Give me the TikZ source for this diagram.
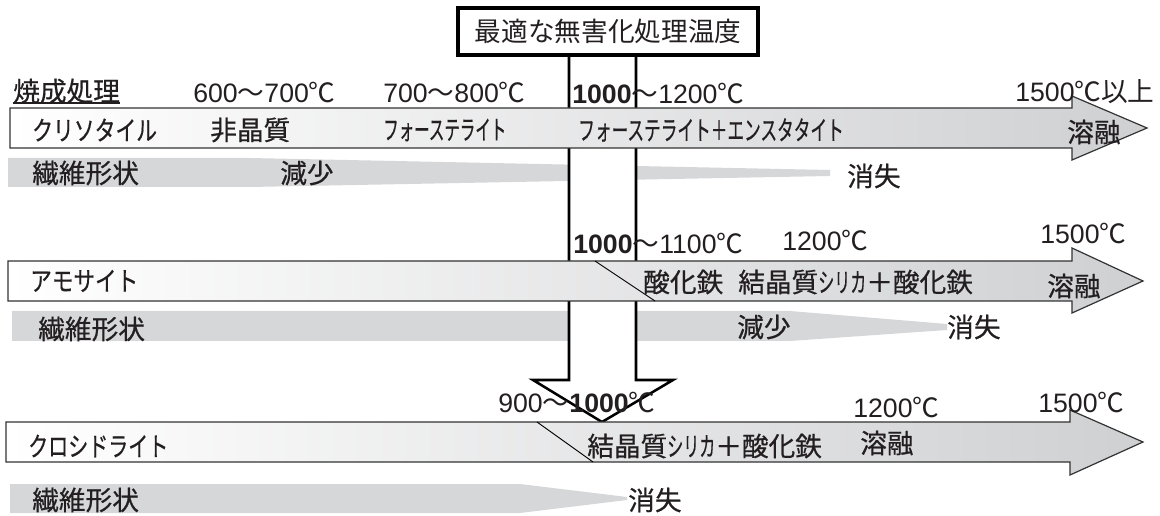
\documentclass[tikz,border=0pt]{standalone}
\usepackage{fontspec}
\usepackage{graphicx}
\setmainfont{Liberation Sans}
\newfontfamily\jp{Noto Sans CJK JP}[FakeBold=0.6]
\newfontfamily\jpr{Noto Sans CJK JP}
\definecolor{ink}{HTML}{231F20}
\definecolor{gA}{HTML}{CFD0D2}
\definecolor{gB}{HTML}{E1E2E3}
\definecolor{band}{HTML}{D6D7D9}
\definecolor{edge}{HTML}{333333}
\newcommand\fsz{\fontsize{20}{22}\selectfont}
\newcommand\cz[2]{\scalebox{#1}[1]{#2}}
\newcommand\dg{{\jpr ℃}}
\newcommand\tl{{\jpr ～}}
\tikzset{
  lbl/.style={inner sep=0pt, font=\fsz, text=ink, anchor=base west},
  jlbl/.style={inner sep=0pt, font=\fsz\jp, text=ink, anchor=west},
  rowarrow/.style={draw=edge, line width=0.9pt, left color=white, middle color=gB, right color=gA},
  fiber/.style={fill=band, draw=none},
  bigarrow/.style={draw=black, line width=1.9pt, fill=white, line join=miter},
  titlebox/.style={draw=black, line width=2.3pt, fill=white, inner sep=0pt, minimum width=300*0.75pt, minimum height=47*0.75pt, font=\fsz\jpr, text=ink},
  diag/.style={draw=black, line width=0.7pt}
}
\begin{document}
\begin{tikzpicture}[x=0.75pt,y=-0.75pt]
\useasboundingbox (0,0) rectangle (1160,516);
% fiber bands
\fill[fiber] (8,158) -- (250,158) -- (830,170) -- (830,176) -- (250,187) -- (8,187) -- cycle;
\fill[fiber] (12,311) -- (790,311) -- (947,324) -- (947,330) -- (790,341) -- (12,341) -- cycle;
\fill[fiber] (10,484) -- (520,484) -- (627,497) -- (627,500) -- (520,513) -- (10,513) -- cycle;
% big vertical arrow
\coordinate (sL) at (569,55);
\coordinate (sR) at (636,55);
\path[bigarrow] (sL) -- (569,380) -- (533,380) -- (602,422) -- (673,380) -- (636,380) -- (sR);
\node[titlebox] (title) at (608,31.5) {最適な無害化処理温度};
% row arrows
\path[rowarrow] (10,108) -- (1072,108) -- (1072,96) -- (1147,128) -- (1072,160) -- (1072,148) -- (10,148) -- cycle;
\path[rowarrow] (8,261) -- (1072,261) -- (1072,248) -- (1143,281) -- (1072,313) -- (1072,301) -- (8,301) -- cycle;
\path[rowarrow] (6,422) -- (1070,422) -- (1070,410) -- (1143,442) -- (1070,475) -- (1070,462) -- (6,462) -- cycle;
\coordinate (d2a) at (595,261); \coordinate (d2b) at (655,301);
\coordinate (d3a) at (537,422); \coordinate (d3b) at (593,462);
\draw[diag] (d2a) -- (d2b);
\draw[diag] (d3a) -- (d3b);
% row 1 texts
\node[jlbl] (t1) at (13,91) {焼成処理};
\draw[ink, line width=1pt] ([yshift=0.5pt]t1.south west) -- ([yshift=0.5pt]t1.south east);
\node[lbl] (a1) at (193,103) {600\tl700\dg};
\node[lbl] (a2) at (383,103) {700\tl800\dg};
\node[lbl] (a3) at (572,104) {\textbf{1000}\tl1200\dg};
\node[lbl] (a4) at (1015,102) {1500\dg{\jpr 以上}};
\node[jlbl] (r1a) at (32,130) {\cz{0.78}{クリソタイル}};
\node[jlbl] (r1b) at (210,130) {非晶質};
\node[jlbl] (r1c) at (383,130) {\cz{0.58}{フォーステライト}};
\node[jlbl] (r1d) at (578,130) {\cz{0.625}{フォーステライト＋エンスタタイト}};
\node[jlbl] (r1e) at (1067,132) {溶融};
\node[jlbl] (f1a) at (32,173) {繊維形状};
\node[jlbl] (f1b) at (280,173) {減少};
\node[jlbl] (f1c) at (847,176) {消失};
% row 2 texts
\node[lbl] (b1) at (573,254) {\textbf{1000}\tl1100\dg};
\node[lbl] (b2) at (782,251) {1200\dg};
\node[lbl] (b3) at (1040,244) {1500\dg};
\node[jlbl] (r2a) at (30,281) {\cz{0.81}{アモサイト}};
\node[jlbl] (r2b) at (643,282) {酸化鉄};
\node[jlbl] (r2c) at (738,282) {結晶質\cz{0.6}{シリカ}＋酸化鉄};
\node[jlbl] (r2d) at (1047,286) {溶融};
\node[jlbl] (f2a) at (38,329) {繊維形状};
\node[jlbl] (f2b) at (737,327) {減少};
\node[jlbl] (f2c) at (947,327) {消失};
% row 3 texts
\node[lbl] (c1) at (498,412) {900\tl\textbf{1000}\dg};
\node[lbl] (c2) at (853,417) {1200\dg};
\node[lbl] (c3) at (1038,412) {1500\dg};
\node[jlbl] (r3a) at (28,446) {\cz{0.75}{クロシドライト}};
\node[jlbl] (r3b) at (587,446) {結晶質\cz{0.6}{シリカ}＋酸化鉄};
\node[jlbl] (r3c) at (860,443) {溶融};
\node[jlbl] (f3a) at (32,500) {繊維形状};
\node[jlbl] (f3b) at (628,500) {消失};
\end{tikzpicture}
\end{document}
